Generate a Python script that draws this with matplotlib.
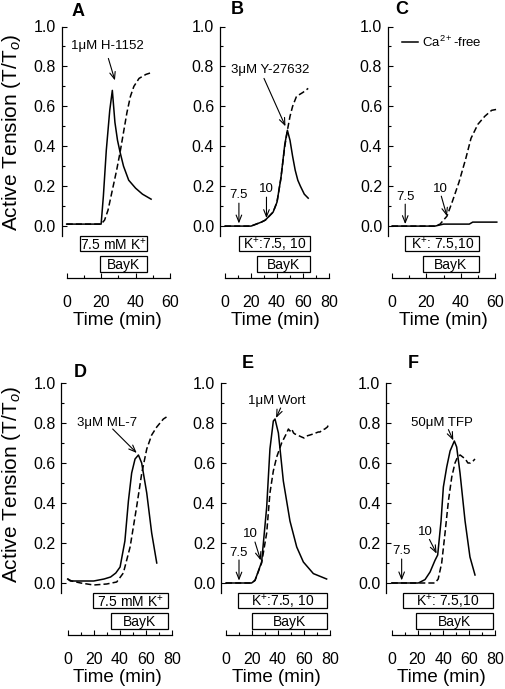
import numpy as np
import matplotlib
matplotlib.use('Agg')
import matplotlib.pyplot as plt
from matplotlib.patches import Rectangle

plt.rcParams['font.family'] = ['Liberation Sans', 'DejaVu Sans']
plt.rcParams['mathtext.fontset'] = 'custom'
plt.rcParams['mathtext.rm'] = 'Liberation Sans'
plt.rcParams['mathtext.it'] = 'Liberation Sans:italic'
plt.rcParams['mathtext.bf'] = 'Liberation Sans:bold'

# ---- data (time in min, tension T/To) ----
# A
a_solid_t = [0, 20, 21.3, 23, 25, 26.5, 28, 29.5, 31, 33, 36, 40, 44, 49]
a_solid_y = [0.01, 0.01, 0.15, 0.38, 0.58, 0.68, 0.52, 0.43, 0.37, 0.3, 0.23, 0.19, 0.16, 0.135]
a_dash_t = [0, 20, 22, 24, 27, 29, 31, 33, 35, 37, 39, 42, 46, 49.5]
a_dash_y = [0.01, 0.01, 0.03, 0.08, 0.2, 0.28, 0.37, 0.47, 0.57, 0.65, 0.7, 0.74, 0.76, 0.77]
# B
b_solid_t = [0, 20, 24, 28, 31, 34, 37, 40, 43, 46, 48, 50, 52, 54, 56, 58, 61, 64]
b_solid_y = [0, 0, 0.01, 0.02, 0.03, 0.05, 0.07, 0.12, 0.24, 0.41, 0.48, 0.43, 0.35, 0.28, 0.23, 0.2, 0.16, 0.14]
b_dash_t = [0, 20, 24, 28, 31, 34, 37, 40, 43, 46, 48, 50, 52, 55, 60, 64]
b_dash_y = [0, 0, 0.01, 0.02, 0.03, 0.05, 0.07, 0.12, 0.24, 0.4, 0.48, 0.55, 0.6, 0.65, 0.67, 0.69]
# C  (Ca2+-free)
c_solid_t = [0, 25, 30, 45, 47, 61]
c_solid_y = [0, 0, 0.01, 0.01, 0.02, 0.02]
c_dash_t = [0, 25, 28, 30, 32, 35, 39, 43, 46, 50, 54, 58, 61]
c_dash_y = [0, 0, 0.01, 0.03, 0.05, 0.12, 0.22, 0.34, 0.44, 0.51, 0.55, 0.58, 0.585]
# D
d_solid_t = [0, 2, 5, 10, 20, 28, 33, 37, 40.3, 44, 46.7, 49.2, 51.8, 54.4, 56.9, 60.8, 64.6, 68.5]
d_solid_y = [0.02, 0.01, 0.01, 0.01, 0.01, 0.02, 0.03, 0.05, 0.08, 0.21, 0.41, 0.55, 0.62, 0.64, 0.6, 0.45, 0.25, 0.1]
d_dash_t = [0, 3, 10, 20, 30, 37.7, 42.8, 48, 53, 57, 60.8, 64.6, 68.5, 73.6, 76]
d_dash_y = [0.02, 0.01, 0.0, -0.01, -0.005, 0.005, 0.05, 0.18, 0.38, 0.55, 0.67, 0.74, 0.78, 0.82, 0.83]
# E
e_solid_t = [0, 19.7, 22.3, 27.4, 31.3, 33.8, 36.4, 37.7, 40.3, 44.1, 49.2, 54.4, 59.5, 67.2, 77.4]
e_solid_y = [0, 0, 0.013, 0.105, 0.38, 0.67, 0.81, 0.82, 0.75, 0.51, 0.31, 0.18, 0.105, 0.047, 0.02]
e_dash_t = [0, 19.7, 22.3, 27.4, 31.3, 33.8, 36.4, 39, 42.8, 46.7, 48, 49.2, 50.5, 52, 53, 55, 56.5, 58.2,
            60, 62, 64.6, 67, 69, 71, 72.3, 74, 76, 78, 79.5]
e_dash_y = [0, 0, 0.013, 0.1, 0.25, 0.45, 0.56, 0.63, 0.7, 0.75, 0.77, 0.76, 0.77, 0.75, 0.745, 0.74, 0.735, 0.73,
            0.725, 0.735, 0.74, 0.745, 0.75, 0.755, 0.755, 0.765, 0.77, 0.78, 0.8]
# F
f_solid_t = [0, 20.6, 25.8, 29.7, 33.5, 35.6, 38.2, 40, 42.6, 45.2, 48.5, 50.3, 52.9, 56.8, 60.6, 64.5]
f_solid_y = [0, 0, 0.017, 0.055, 0.113, 0.14, 0.31, 0.48, 0.58, 0.66, 0.71, 0.68, 0.55, 0.31, 0.13, 0.04]
f_dash_t = [0, 33.5, 36, 38.7, 41.3, 43.9, 46.5, 49, 51, 53, 55, 57, 59, 61, 63, 64.5]
f_dash_y = [0, 0, 0.02, 0.1, 0.25, 0.41, 0.53, 0.6, 0.63, 0.64, 0.63, 0.62, 0.6, 0.6, 0.61, 0.62]

# bars under the traces: (label, start, end)
a_bars = [('7.5 mM K$^{+}$', 7.7, 46.5), ('BayK', 19.3, 46.5)]
b_bars = [('K$^{+}$:7.5, 10', 10.7, 65.2), ('BayK', 24.8, 65.2)]
c_bars = [('K$^{+}$: 7.5,10', 7.7, 50.7), ('BayK', 17.8, 50.7)]
d_bars = [('7.5 mM K$^{+}$', 19.2, 77.4), ('BayK', 33.3, 77.4)]
e_bars = [('K$^{+}$:7.5, 10', 9.5, 78), ('BayK', 19.7, 78)]
f_bars = [('K$^{+}$: 7.5,10', 8.5, 78.2), ('BayK', 18.8, 78.2)]

W, H = 505, 689
fig = plt.figure(figsize=(W / 100, H / 100), dpi=100)


def make_ax(left, right, top, bottom):
    return fig.add_axes([left / W, 1 - bottom / H, (right - left) / W, (bottom - top) / H])


def panel(ax, xmax, xlim, st, sy, dt, dy, bars):
    ax.plot(st, sy, color='black', lw=1.1)
    ax.plot(dt, dy, color='black', lw=1.1, dashes=(4, 2))
    ax.set_xlim(*xlim)
    ax.set_ylim(-0.26, 1.0)
    for s in ['top', 'right']:
        ax.spines[s].set_visible(False)
    ax.spines['left'].set_bounds(-0.05, 1.0)
    ax.spines['bottom'].set_bounds(0, xmax)
    for s in ['left', 'bottom']:
        ax.spines[s].set_linewidth(0.9)
    ax.set_yticks(np.arange(0, 1.01, 0.2))
    ax.set_yticks(np.arange(0.1, 1.0, 0.2), minor=True)
    ax.set_xticks(np.arange(0, xmax + 1, 20))
    ax.set_xticks(np.arange(10, xmax, 20), minor=True)
    ax.tick_params(which='both', direction='in', width=0.8, labelsize=11.5)
    ax.tick_params(which='major', length=3.5)
    ax.tick_params(which='minor', length=2)
    ax.tick_params(axis='x', pad=12)
    ax.tick_params(axis='y', pad=4)
    ax.set_xlabel('Time (min)', fontsize=13.5, labelpad=2)
    boxes_y = [(-0.127, -0.05), (-0.232, -0.15)]
    for (lab, x0, x1), (y0, y1) in zip(bars, boxes_y):
        ax.add_patch(Rectangle((x0, y0), x1 - x0, y1 - y0, fill=False, lw=0.9, ec='black'))
        ax.text((x0 + x1) / 2, (y0 + y1) / 2 - 0.003, lab, ha='center', va='center', fontsize=10)


def arrow(ax, txt, xt, yt, x0, y0, x1, y1, fs=9.5):
    if txt:
        ax.text(xt, yt, txt, ha='center', va='center', fontsize=fs)
    ax.annotate('', xy=(x1, y1), xytext=(x0, y0),
                arrowprops=dict(arrowstyle='->,head_length=0.5,head_width=0.2', lw=0.8, color='black',
                                shrinkA=0, shrinkB=0))


axA = make_ax(61.5, 173.5, 26.5, 278)
panel(axA, 60, (-3, 62), a_solid_t, a_solid_y, a_dash_t, a_dash_y, a_bars)
arrow(axA, '1μM H-1152', 23.5, 0.9, 24.2, 0.84, 28, 0.73)

axB = make_ax(219.8, 331.6, 26.5, 278)
panel(axB, 80, (-4, 82), b_solid_t, b_solid_y, b_dash_t, b_dash_y, b_bars)
arrow(axB, '3μM Y-27632', 34.5, 0.78, 30, 0.74, 46.5, 0.5)
arrow(axB, '7.5', 10.7, 0.155, 10.7, 0.115, 10.7, 0.013)
arrow(axB, '10', 31.5, 0.185, 31.9, 0.145, 31.9, 0.04)

axC = make_ax(387.7, 498.5, 26.5, 278)
panel(axC, 60, (-2.5, 62), c_solid_t, c_solid_y, c_dash_t, c_dash_y, c_bars)
axC.plot([5.8, 15.1], [0.92, 0.92], color='black', lw=1.1)
axC.text(17.7, 0.92, 'Ca$^{2+}$-free', ha='left', va='center', fontsize=9.5)
arrow(axC, '7.5', 7.7, 0.145, 7.7, 0.11, 7.7, 0.01)
arrow(axC, '10', 28.1, 0.185, 28.7, 0.15, 32, 0.05)

axD = make_ax(61.2, 174.3, 383, 635)
panel(axD, 80, (-5, 82), d_solid_t, d_solid_y, d_dash_t, d_dash_y, d_bars)
arrow(axD, '3μM ML-7', 30, 0.8, 34.6, 0.77, 53.1, 0.65)

axE = make_ax(220.8, 332.6, 383, 635)
panel(axE, 80, (-4, 82), e_solid_t, e_solid_y, e_dash_t, e_dash_y, e_bars)
arrow(axE, '1μM Wort', 39, 0.91, 42, 0.875, 38.5, 0.825)
arrow(axE, '7.5', 10, 0.15, 10, 0.115, 10, 0.012)
arrow(axE, '10', 18.5, 0.245, 22.3, 0.205, 26.7, 0.113)

axF = make_ax(385.9, 497.6, 383, 635)
panel(axF, 80, (-4.5, 82), f_solid_t, f_solid_y, f_dash_t, f_dash_y, f_bars)
arrow(axF, '50μM TFP', 38.7, 0.8, 43.9, 0.767, 47.7, 0.713)
arrow(axF, '7.5', 7.7, 0.158, 7.7, 0.12, 7.7, 0.013)
arrow(axF, '10', 25.8, 0.255, 29.2, 0.218, 34.8, 0.147)

# panel letters
for lab, x, y in [('A', 78, 12), ('B', 237, 10), ('C', 402, 10),
                  ('D', 80, 372), ('E', 248, 363), ('F', 413, 363)]:
    fig.text(x / W, 1 - y / H, lab, ha='center', va='center', fontsize=13, fontweight='bold')

# y labels
for yc in [132, 484]:
    fig.text(12 / W, 1 - yc / H, 'Active Tension (T/T$_{o}$)', rotation=90,
             ha='center', va='center', fontsize=15)

fig.savefig('out.png', dpi=100)
